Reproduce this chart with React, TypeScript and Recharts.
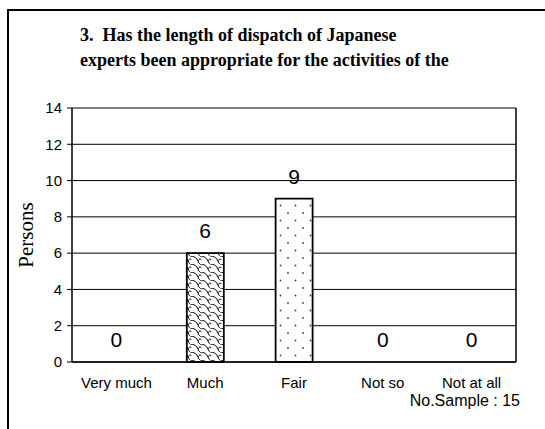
import React from 'react';
import { ComposedChart, Bar, Line, XAxis, YAxis, CartesianGrid, Cell, LabelList } from 'recharts';

const categories = ['Very much', 'Much', 'Fair', 'Not so', 'Not at all'];
const persons = [0, 6, 9, 0, 0];
const yTicks = [0, 2, 4, 6, 8, 10, 12, 14];
const barFills = ['#ffffff', 'url(#scales)', 'url(#dots)', '#ffffff', '#ffffff'];
const titleLines = ['3.  Has the length of dispatch of Japanese', 'experts been appropriate for the activities of the'];
const yLabel = 'Persons';
const sampleNote = 'No.Sample : 15';

const data = categories.map((c, i) => ({ name: c, value: persons[i] }));

const SANS = '"Liberation Sans", Arial, sans-serif';
const SERIF = '"Liberation Serif", "Times New Roman", serif';

export default function App() {
  return (
    <div style={{ position: 'absolute', left: 0, top: 0, width: 545, height: 429, overflow: 'hidden', background: '#fff' }}>
      <div style={{ position: 'absolute', left: 7, top: 9, width: 700, height: 600, border: '2px solid #000' }} />
      <div style={{ position: 'absolute', left: 0, top: 0 }}>
        <ComposedChart width={545} height={429} data={data} margin={{ top: 108, right: 28, bottom: 37, left: 0 }} barCategoryGap={0}>
          <defs>
            <pattern id="scales" width="10" height="8" patternUnits="userSpaceOnUse">
              <rect width="10" height="8" fill="#fff" />
              <path d="M0 0 C4 0, 7 2, 8 5 C8.5 6.5, 9.5 8, 10 8" fill="none" stroke="#000" strokeWidth="1" />
              <path d="M8 5 C8.5 4, 9.3 3, 10 3 M0 3 C0.5 3, 1 3.5, 1.2 4" fill="none" stroke="#000" strokeWidth="1" />
            </pattern>
            <pattern id="dots" width="15" height="15" patternUnits="userSpaceOnUse">
              <rect width="15" height="15" fill="#fff" />
              <circle cx="3" cy="3" r="0.9" fill="#444" />
              <circle cx="10.5" cy="10.5" r="0.9" fill="#444" />
            </pattern>
          </defs>
          <CartesianGrid vertical={false} stroke="#000" strokeWidth={1} />
          <XAxis
            dataKey="name"
            height={30}
            tickLine={false}
            axisLine={{ stroke: '#000', strokeWidth: 1.5 }}
            tick={{ fill: '#000', fontSize: 15, fontFamily: SANS }}
            tickMargin={9}
            interval={0}
          />
          <YAxis
            domain={[0, 14]}
            ticks={yTicks}
            width={72}
            tickSize={5}
            tickMargin={5}
            axisLine={{ stroke: '#000', strokeWidth: 1.5 }}
            tickLine={{ stroke: '#000' }}
            tick={{ fill: '#000', fontSize: 15, fontFamily: SANS }}
          />
          <YAxis yAxisId="r" orientation="right" width={1} tick={false} tickLine={false} domain={[0, 14]} axisLine={{ stroke: '#000', strokeWidth: 1.5 }} />
          <Bar dataKey="value" barSize={37} stroke="#000" strokeWidth={1.8} isAnimationActive={false}>
            {data.map((d, i) => (
              <Cell key={d.name} fill={barFills[i]} />
            ))}
          </Bar>
          <Line dataKey="value" stroke="none" dot={false} activeDot={false} isAnimationActive={false}>
            <LabelList dataKey="value" position="top" offset={15} fill="#000" fontSize={21} fontFamily={SANS} />
          </Line>
        </ComposedChart>
      </div>
      <svg width={545} height={429} style={{ position: 'absolute', left: 0, top: 0, pointerEvents: 'none' }}>
        {titleLines.map((t, i) => (
          <text key={i} x={80} y={40.5 + i * 25} fontSize={18} fontWeight="bold" fontFamily={SERIF} fill="#000" style={{ whiteSpace: 'pre' }}>
            {t}
          </text>
        ))}
        <text x={33} y={235} transform="rotate(-90 33 235)" textAnchor="middle" fontSize={21} fontFamily={SERIF} fill="#000">
          {yLabel}
        </text>
        <text x={520} y={406} textAnchor="end" fontSize={16} fontFamily={SANS} fill="#000">
          {sampleNote}
        </text>
      </svg>
    </div>
  );
}
